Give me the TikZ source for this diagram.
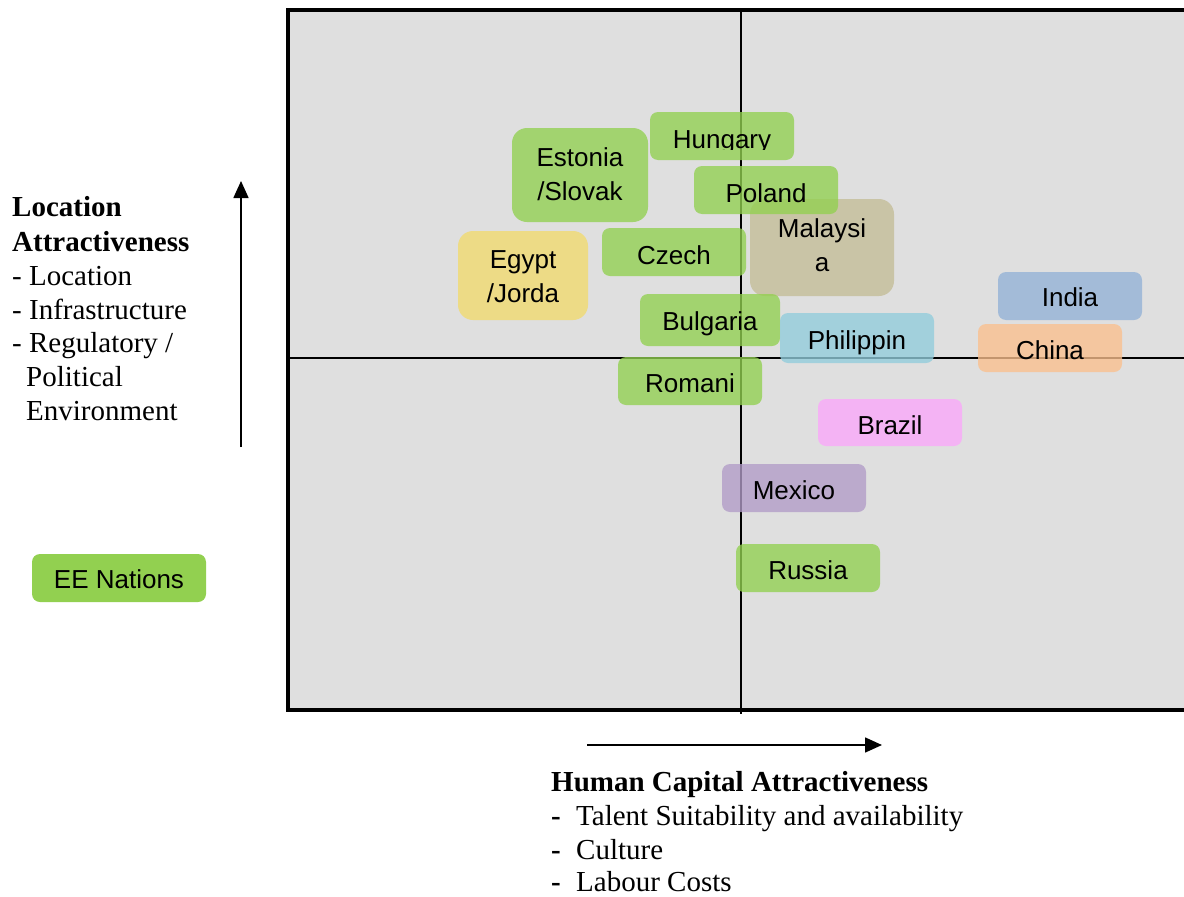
\documentclass[tikz,border=0pt]{standalone}
\usepackage{fontspec}
\setmainfont{Liberation Serif}
\newfontfamily\boxfont{Liberation Sans}
\usetikzlibrary{arrows.meta}
\definecolor{panel}{HTML}{DFDFDF}
\definecolor{eegreen}{HTML}{92D050}
\definecolor{egyptc}{HTML}{F1DA6E}
\definecolor{malayc}{HTML}{C4BD97}
\definecolor{philc}{HTML}{92CDDC}
\definecolor{brazc}{HTML}{FBA7FB}
\definecolor{mexc}{HTML}{B19CC7}
\definecolor{indc}{HTML}{93B2D7}
\definecolor{chinc}{HTML}{FAC08E}
\tikzset{
  cbox/.style={draw=none, fill opacity=0.78, inner sep=0pt, rounded corners=8pt},
  bigbox/.style={cbox, rounded corners=15pt},
  ctext/.style={font=\boxfont\fontsize{26}{30}\selectfont, anchor=base, inner sep=0pt, text=black},
  ttext/.style={font=\fontsize{29}{34}\selectfont, anchor=base west, inner sep=0pt},
  btext/.style={font=\bfseries\fontsize{29}{34}\selectfont, anchor=base west, inner sep=0pt},
  axisline/.style={line width=1.6pt, black},
  axisarrow/.style={line width=1.6pt, -{Triangle[length=17pt,width=15pt]}},
}
\begin{document}
\begin{tikzpicture}[x=1pt, y=-1pt]
\useasboundingbox (0,0) rectangle (1184,897);
\clip (0,0) rectangle (1184,897);

% panel
\draw[line width=4pt, fill=panel] (288,10) rectangle (1210,710);
\coordinate (vtop) at (741,10);
\coordinate (vbot) at (741,714);
\coordinate (hleft) at (288,358);
\coordinate (hright) at (1210,358);
\draw[axisline] (vtop) -- (vbot);
\draw[axisline] (hleft) -- (hright);

% boxes
\node[bigbox, fill=eegreen, minimum width=136pt, minimum height=94pt] (estonia) at (580,175) {};
\node[cbox, fill=eegreen, minimum width=144pt, minimum height=48pt] (hungary) at (722,136) {};
\node[bigbox, fill=malayc, minimum width=144pt, minimum height=97pt] (malaysia) at (822,247.5) {};
\node[cbox, fill=eegreen, minimum width=144pt, minimum height=48pt] (poland) at (766,190) {};
\node[bigbox, fill=egyptc, minimum width=130pt, minimum height=89pt] (egypt) at (523,275.5) {};
\node[cbox, fill=eegreen, minimum width=144pt, minimum height=48pt] (czech) at (674,252) {};
\node[cbox, fill=eegreen, minimum width=140pt, minimum height=52pt] (bulgaria) at (710,320) {};
\node[cbox, fill=philc, minimum width=154pt, minimum height=50pt] (philippin) at (857,338) {};
\node[cbox, fill=eegreen, minimum width=144pt, minimum height=48pt] (romani) at (690,381) {};
\node[cbox, fill=brazc, minimum width=144pt, minimum height=47pt] (brazil) at (890,422.5) {};
\node[cbox, fill=mexc, minimum width=144pt, minimum height=48pt] (mexico) at (794,488) {};
\node[cbox, fill=eegreen, minimum width=144pt, minimum height=48pt] (russia) at (808,568) {};
\node[cbox, fill=indc, minimum width=144pt, minimum height=48pt] (india) at (1070,296) {};
\node[cbox, fill=chinc, minimum width=144pt, minimum height=48pt] (china) at (1050,348) {};
\node[cbox, fill=eegreen, fill opacity=1, minimum width=174pt, minimum height=48pt] (ee) at (119,578) {};

% box texts
\begin{scope}
  \clip (650,100) rectangle (794,149);
  \node[ctext] (hungary-t) at (722,148) {Hungary};
\end{scope}
\node[ctext] (estonia-t1) at (580,166) {Estonia};
\node[ctext] (estonia-t2) at (580,200) {/Slovak};
\node[ctext] (poland-t) at (766,202) {Poland};
\node[ctext] (malaysia-t1) at (822,237) {Malaysi};
\node[ctext] (malaysia-t2) at (822,271) {a};
\node[ctext] (egypt-t1) at (523,268) {Egypt};
\node[ctext] (egypt-t2) at (523,302) {/Jorda};
\node[ctext] (czech-t) at (674,264) {Czech};
\node[ctext] (bulgaria-t) at (710,330) {Bulgaria};
\node[ctext] (philippin-t) at (857,349) {Philippin};
\node[ctext] (romani-t) at (690,392) {Romani};
\node[ctext] (brazil-t) at (890,434) {Brazil};
\node[ctext] (mexico-t) at (794,499) {Mexico};
\node[ctext] (russia-t) at (808,579) {Russia};
\node[ctext] (india-t) at (1070,306) {India};
\node[ctext] (china-t) at (1050,359) {China};
\node[ctext] (ee-t) at (119,588) {EE Nations};

% axis arrows
\coordinate (va) at (241,447);
\coordinate (vb) at (241,181);
\draw[axisarrow] (va) -- (vb);
\coordinate (ha) at (587,745);
\coordinate (hb) at (882,745);
\draw[axisarrow] (ha) -- (hb);

% left labels
\node[btext] (l1) at (12,216.7) {Location};
\node[btext] (l2) at (12,251.7) {Attractiveness};
\node[ttext] (l3) at (12,285) {- Location};
\node[ttext] (l4) at (12,319) {- Infrastructure};
\node[ttext] (l5) at (12,352.5) {- Regulatory /};
\node[ttext] (l6) at (26,386) {Political};
\node[ttext] (l7) at (26,420) {Environment};

% bottom labels
\node[btext] (b1) at (551,791) {Human Capital Attractiveness};
\node[btext] (b2d) at (551,825) {-};
\node[ttext] (b2) at (576,825) {Talent Suitability and availability};
\node[btext] (b3d) at (551,859) {-};
\node[ttext] (b3) at (576,859) {Culture};
\node[btext] (b4d) at (551,891) {-};
\node[ttext] (b4) at (576,891) {Labour Costs};
\end{tikzpicture}
\end{document}
